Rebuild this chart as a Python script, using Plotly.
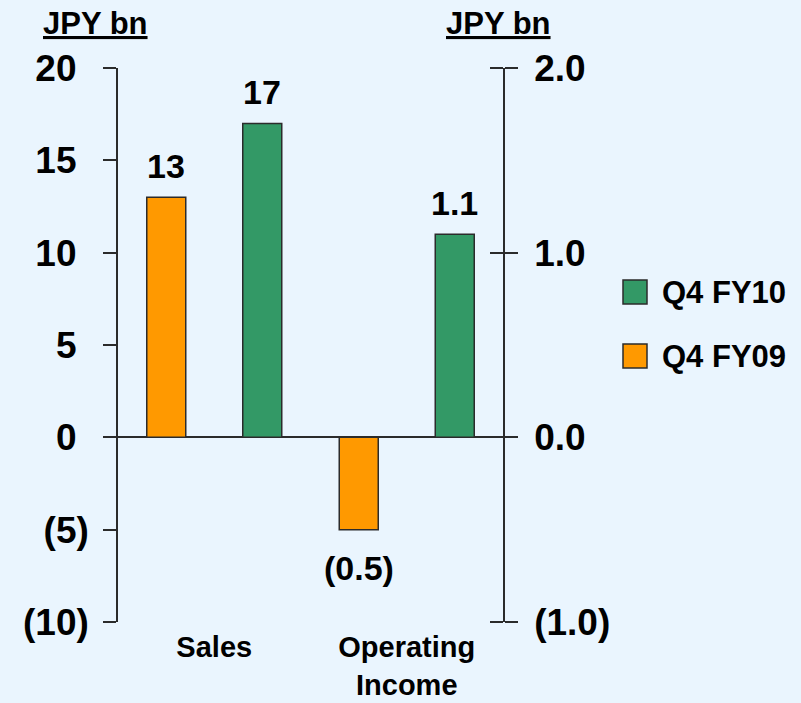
import plotly.graph_objects as go

# -- données -----------------------------------------------------------------
CATEGORIES = ["Sales", "Operating<br>Income"]
FY09 = [13, -0.5]
FY10 = [17, 1.1]
DECIMALS = [0, 1]          # Sales en entier, Operating Income à 1 décimale
AXES = ["y", "y2"]         # Sales sur l'axe gauche, OI sur l'axe droit

LEFT_TICKS = [-10, -5, 0, 5, 10, 15, 20]
RIGHT_TICKS = [-1.0, 0.0, 1.0, 2.0]

COLORS = {
    "FY09": "#FF9900",
    "FY10": "#339966",
    "bg": "#EAF5FE",
    "line": "#2b2b2b",
    "text": "#000000",
}
FONT = "Liberation Sans, Arial, sans-serif"

# -- géométrie (pixels) ------------------------------------------------------
W, H = 801, 703
L, R, T, B = 118, 503, 68, 622
CAT_PX = (R - L) / len(CATEGORIES)
BAR_W = 39 / CAT_PX        # en unités de catégorie
HALF = 48 / CAT_PX         # décalage du centre de chaque barre


def fmt(v, d):
    s = f"{abs(v):.{d}f}"
    return f"({s})" if v < 0 else s


def acct(v, d):
    """Format comptable : les positifs gardent la place de la parenthèse."""
    s = fmt(v, d)
    if v >= 0:
        s += '<span style="color:rgba(0,0,0,0)">)</span>'
    return s


def px_x(p):
    return (p - L) / (R - L)


def px_y(p):
    return (B - p) / (B - T)


def bold(size):
    return {"size": size, "family": FONT, "color": COLORS["text"], "weight": "bold"}


fig = go.Figure()
for vals, col, off in [(FY09, COLORS["FY09"], -HALF), (FY10, COLORS["FY10"], HALF)]:
    for i, cat in enumerate(CATEGORIES):
        fig.add_trace(go.Bar(
            x=[cat], y=[vals[i]], yaxis=AXES[i],
            width=BAR_W, offset=off - BAR_W / 2,
            marker={"color": col, "line": {"color": COLORS["line"], "width": 1.5}},
            showlegend=False, hoverinfo="skip",
        ))
        shift = 31 if vals[i] >= 0 else -38
        fig.add_annotation(
            x=cat, y=vals[i], xref="x", yref=AXES[i],
            xanchor="center", yanchor="middle",
            xshift=off * CAT_PX, yshift=shift,
            text=fmt(vals[i], DECIMALS[i]), showarrow=False, font=bold(34),
        )

axis_common = {
    "showgrid": False, "automargin": False,
    "ticklen": 13, "tickwidth": 1.5, "tickcolor": COLORS["line"],
}
fig.update_layout(
    width=W, height=H, autosize=False,
    margin={"l": L, "r": W - R, "t": T, "b": H - B, "pad": 0},
    paper_bgcolor=COLORS["bg"], plot_bgcolor=COLORS["bg"],
    showlegend=False, barmode="overlay",
    xaxis={
        "type": "category", "categoryarray": CATEGORIES, "range": [-0.5, 1.5],
        "showline": False, "showgrid": False, "zeroline": False, "ticks": "",
        "automargin": False, "ticklabelstandoff": 5, "tickfont": bold(29),
    },
    yaxis={
        **axis_common,
        "range": [-10, 20], "tickvals": LEFT_TICKS,
        "ticktext": [acct(v, 0) for v in LEFT_TICKS],
        "zeroline": True, "zerolinecolor": COLORS["line"], "zerolinewidth": 1.5,
        "showline": True, "linecolor": COLORS["line"], "linewidth": 1.5,
        "ticks": "outside", "ticklabelstandoff": 7, "tickfont": bold(37),
    },
    yaxis2={
        **axis_common,
        "range": [-1, 2], "overlaying": "y", "side": "right", "anchor": "x",
        "tickvals": RIGHT_TICKS, "ticktext": [fmt(v, 1) for v in RIGHT_TICKS],
        "zeroline": False,
        "showline": True, "linecolor": COLORS["line"], "linewidth": 1.5,
        "ticks": "outside", "ticklabelstandoff": 9, "tickfont": bold(37),
    },
    # axe fantôme, posé sur le bord droit et tourné vers la gauche :
    # il donne les graduations croisées de l'axe droit
    yaxis3={
        **axis_common,
        "range": [-1, 2], "overlaying": "y", "side": "left",
        "anchor": "free", "position": 1.0,
        "tickvals": RIGHT_TICKS, "showticklabels": False,
        "zeroline": False, "showline": False, "ticks": "outside",
    },
)
# trace vide pour que l'axe fantôme soit dessiné
fig.add_trace(go.Scatter(x=[None], y=[None], yaxis="y3", showlegend=False,
                         hoverinfo="skip"))

# unités au-dessus des axes
for xp in (95, 498):
    fig.add_annotation(
        x=px_x(xp), y=px_y(24), xref="paper", yref="paper",
        xanchor="center", yanchor="middle",
        text="<u>JPY bn</u>", showarrow=False, font=bold(31),
    )

# légende dessinée à la main (carrés plus grands que ceux de plotly)
for name, col, top in [("Q4 FY10", COLORS["FY10"], 280), ("Q4 FY09", COLORS["FY09"], 344)]:
    fig.add_shape(
        type="rect", xref="paper", yref="paper",
        x0=px_x(623), x1=px_x(647), y0=px_y(top + 24), y1=px_y(top),
        fillcolor=col, line={"color": COLORS["line"], "width": 1.5},
    )
    fig.add_annotation(
        x=px_x(660), y=px_y(top + 12), xref="paper", yref="paper",
        xanchor="left", yanchor="middle", text=name, showarrow=False,
        font=bold(31),
    )

fig.write_html("out.html", config={"displayModeBar": False},
               post_script="document.body.style.margin='0';")
